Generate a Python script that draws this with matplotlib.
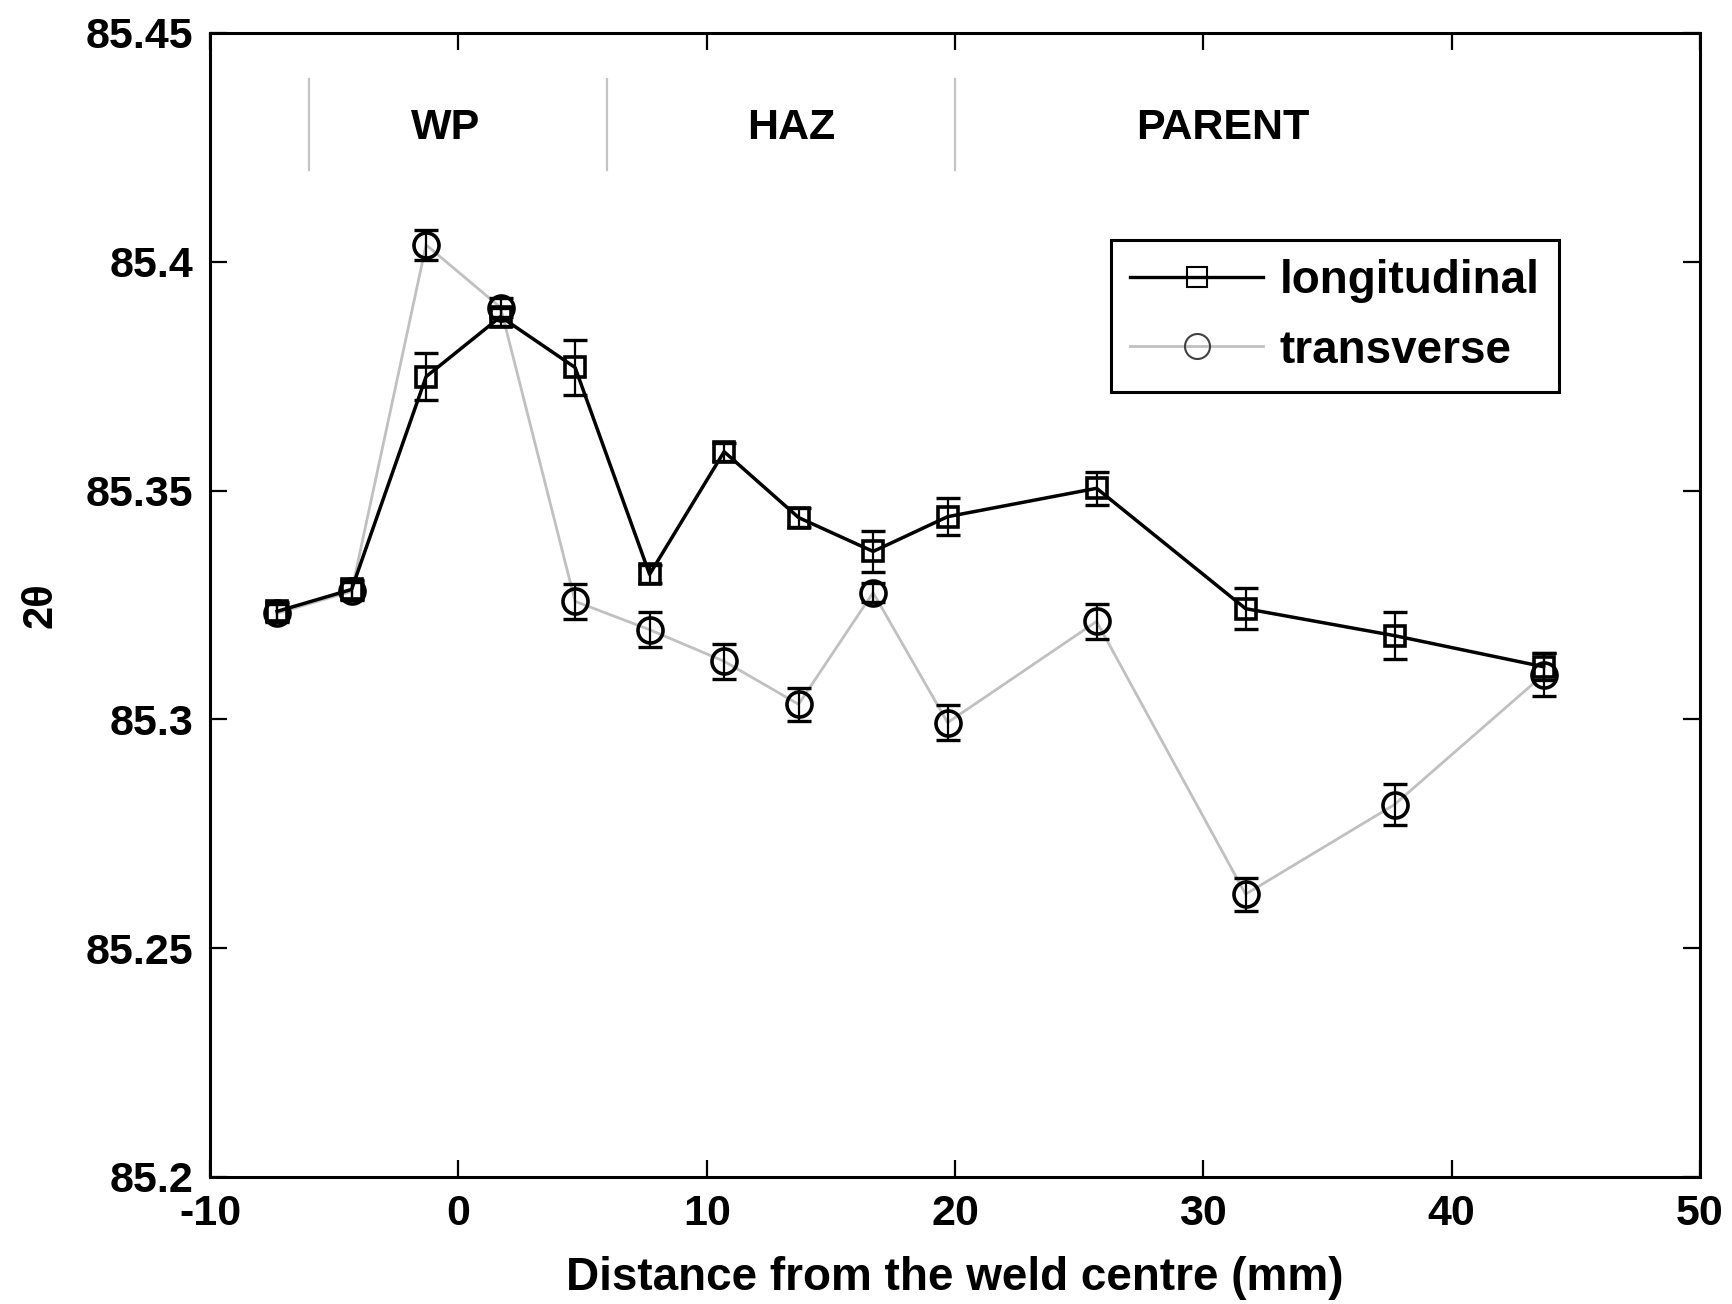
import numpy as np
import matplotlib
matplotlib.use('Agg')
import matplotlib.pyplot as plt

plt.rcParams['font.family'] = ['Liberation Sans', 'DejaVu Sans']
plt.rcParams['font.weight'] = 'bold'
plt.rcParams['axes.unicode_minus'] = False

# distance from weld centre (mm)
dist = [-7.3, -4.3, -1.3, 1.7, 4.7, 7.7, 10.7, 13.7, 16.7, 19.7, 25.7, 31.7, 37.7, 43.7]

# 2theta, longitudinal direction
long_2th = [85.3236, 85.3284, 85.3749, 85.3880, 85.3769, 85.3317, 85.3585,
            85.3441, 85.3367, 85.3443, 85.3505, 85.3242, 85.3183, 85.3115]
long_err = [0.002, 0.002, 0.0052, 0.002, 0.006, 0.002, 0.002,
            0.002, 0.0044, 0.004, 0.0036, 0.0045, 0.0051, 0.003]

# 2theta, transverse direction
trans_2th = [85.3232, 85.3280, 85.4037, 85.3900, 85.3258, 85.3196, 85.3127,
             85.3033, 85.3277, 85.2993, 85.3214, 85.2618, 85.2814, 85.3098]
trans_err = [0.002, 0.002, 0.0033, 0.002, 0.0038, 0.0038, 0.0038,
             0.0036, 0.002, 0.0038, 0.0038, 0.0036, 0.0044, 0.0047]

# zone boundaries and labels
zone_lines = [-6, 6, 20]
zone_names = ['WP', 'HAZ', 'PARENT']
zone_pos = [-0.5, 13.4, 30.8]

fs = 31

fig = plt.figure(figsize=(17.33, 13.04), dpi=100)
ax = fig.add_axes([0.1212, 0.0974, 0.8598, 0.8773])

for xz in zone_lines:
    ax.plot([xz, xz], [85.42, 85.44], color='#c4c4c4', lw=1.6)
for name, xp in zip(zone_names, zone_pos):
    ax.text(xp, 85.4293, name, ha='center', va='center', fontsize=fs, fontweight='bold')

# transverse (grey line)
ax.errorbar(dist, trans_2th, yerr=trans_err, fmt='none', ecolor='k',
            elinewidth=1.6, capsize=8.3, capthick=2.4, zorder=3)
ax.plot(dist, trans_2th, '-', color='#c0c0c0', lw=2.0, zorder=2)
ax.plot(dist, trans_2th, 'o', ms=18, mfc='none', mec='k', mew=2.6, zorder=4)

# longitudinal (black line)
ax.errorbar(dist, long_2th, yerr=long_err, fmt='none', ecolor='k',
            elinewidth=1.6, capsize=8.3, capthick=2.4, zorder=5)
ax.plot(dist, long_2th, '-', color='k', lw=2.5, zorder=5)
ax.plot(dist, long_2th, 's', ms=15, mfc='none', mec='k', mew=2.6, zorder=6)

# legend handles: line + marker only
h1, = ax.plot([], [], '-s', color='k', lw=2.4, ms=15, mfc='none', mec='k', mew=1.5)
h2, = ax.plot([], [], '-o', color='#c0c0c0', lw=2.0, ms=18, mfc='none', mec='#404040', mew=1.5)
leg = ax.legend([h1, h2], ['longitudinal', 'transverse'], loc='upper right',
                bbox_to_anchor=(0.905, 0.819), borderaxespad=0, fancybox=False,
                edgecolor='k', fontsize=33, handlelength=2.9, handletextpad=0.35,
                borderpad=0.42, labelspacing=0.55, framealpha=1)
leg.get_frame().set_linewidth(2.2)
for t in leg.get_texts():
    t.set_fontweight('bold')

ax.set_xlim(-10, 50)
ax.set_ylim(85.2, 85.45)
ax.set_xticks([-10, 0, 10, 20, 30, 40, 50])
ax.set_yticks([85.2, 85.25, 85.3, 85.35, 85.4, 85.45])
ax.set_yticklabels(['85.2', '85.25', '85.3', '85.35', '85.4', '85.45'])
ax.tick_params(direction='in', length=12, width=1.6, labelsize=fs, pad=12,
               top=True, right=True)
for lab in ax.get_xticklabels() + ax.get_yticklabels():
    lab.set_fontweight('bold')
for sp in ax.spines.values():
    sp.set_linewidth(2.2)

ax.set_xlabel('Distance from the weld centre (mm)', fontsize=33, fontweight='bold', labelpad=16)
ax.set_ylabel('2θ', fontsize=30, fontweight='bold', labelpad=18)

fig.savefig('out.png', dpi=100)
